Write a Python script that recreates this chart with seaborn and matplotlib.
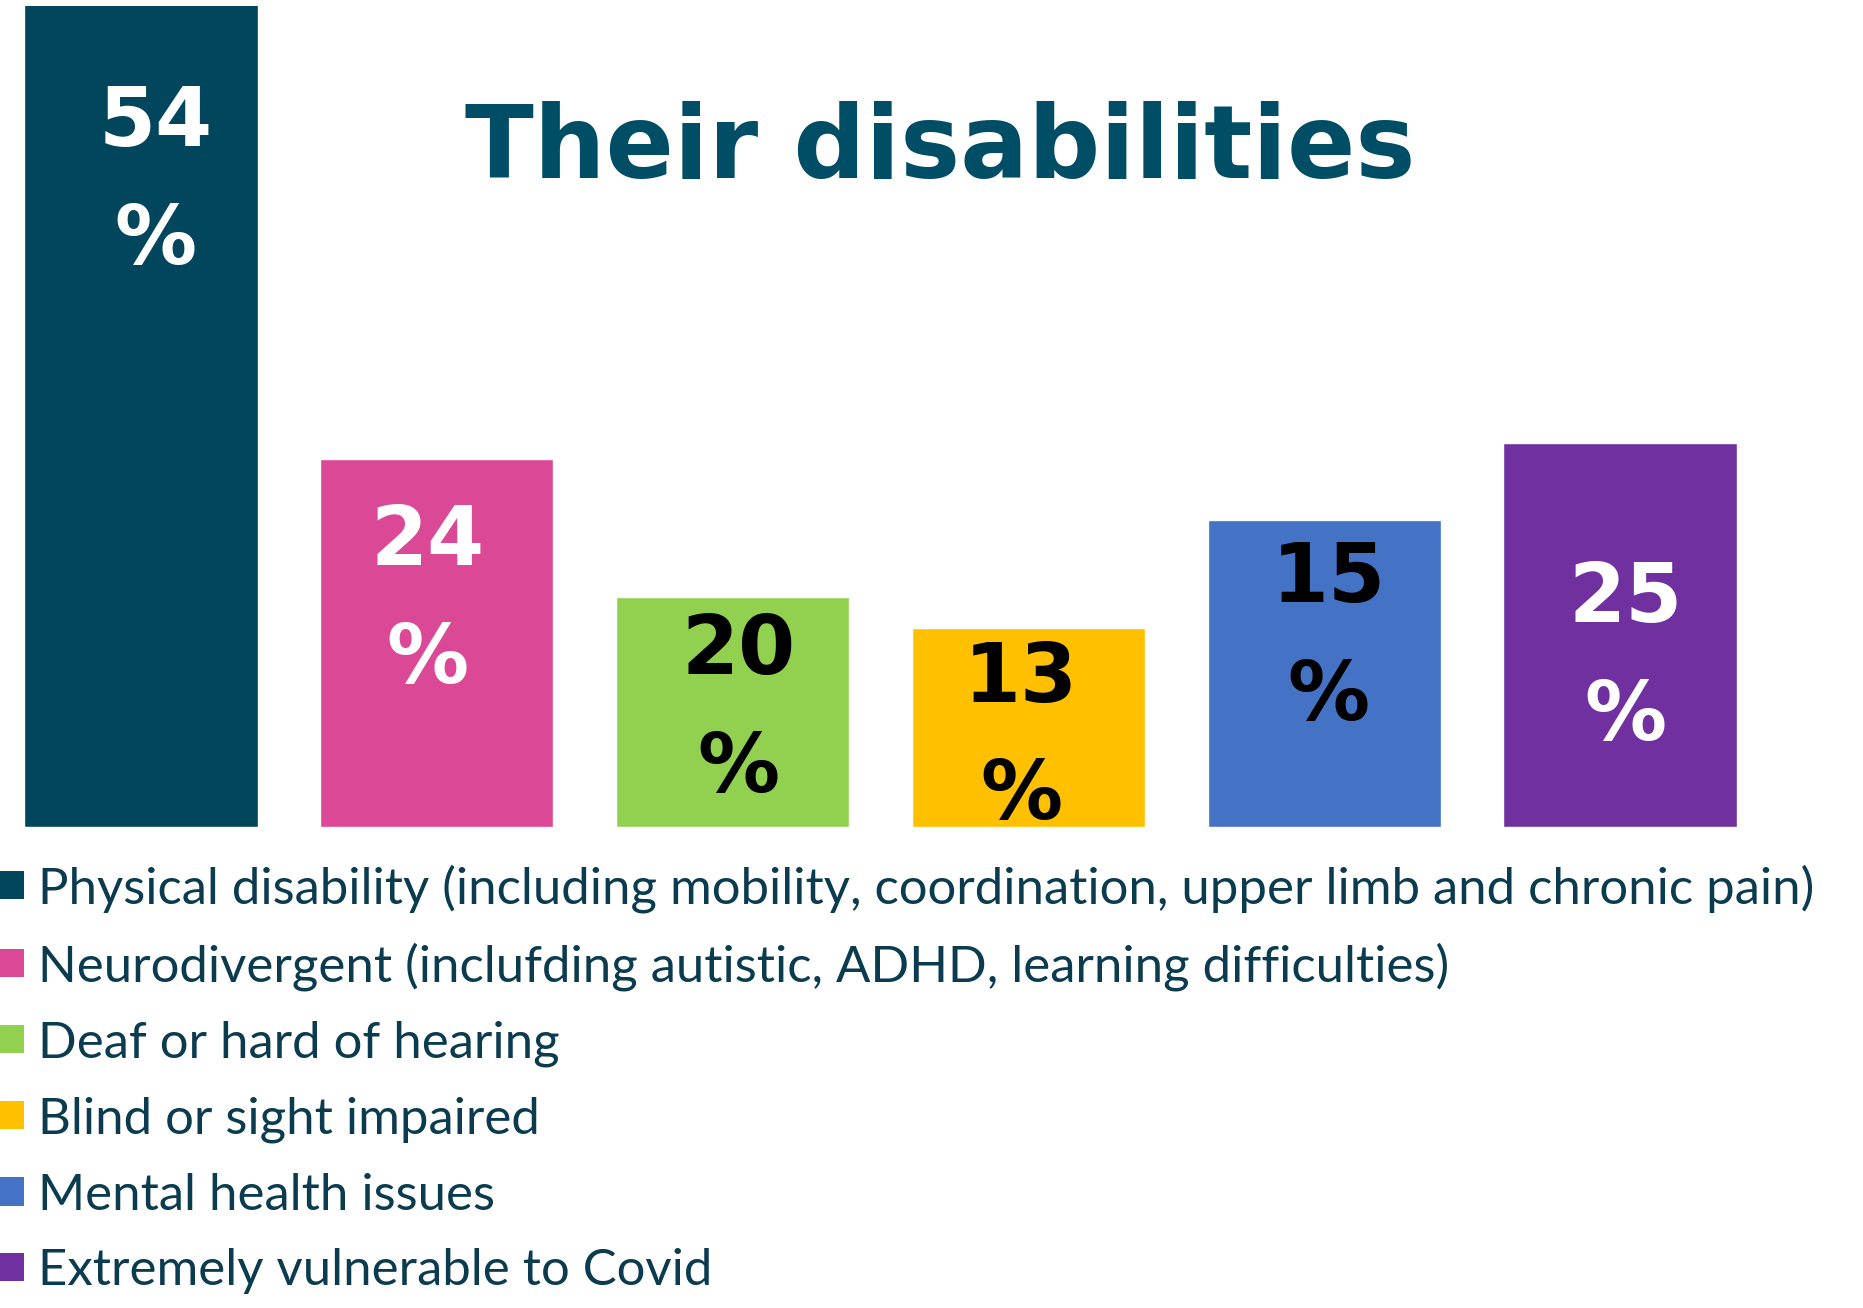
import matplotlib
matplotlib.use("Agg")
import matplotlib.pyplot as plt
import seaborn as sns
import pandas as pd
from matplotlib import font_manager as fm
from matplotlib.patches import Patch

# veriler
categories = [
    "Physical disability (including mobility, coordination, upper limb and chronic pain)",
    "Neurodivergent (inclufding autistic, ADHD, learning difficulties)",
    "Deaf or hard of hearing",
    "Blind or sight impaired",
    "Mental health issues",
    "Extremely vulnerable to Covid",
]
bar_heights = [54, 24, 15, 13, 20, 25]
bar_labels = ["54\n%", "24\n%", "20\n%", "13\n%", "15\n%", "25\n%"]
colors = ["#01465C", "#DB4896", "#92D050", "#FFC000", "#4472C4", "#7030A0"]
label_colors = ["white", "white", "black", "black", "black", "white"]
# etiketlerin yeri (veri biriminde): dikey konum ve bar ortasindan kayma
label_y = [42.0, 14.7, 7.6, 5.8, 12.3, 11.0]
label_dx = [0.05, -0.03, 0.02, -0.025, 0.015, 0.02]

sns.set_theme(style="white")

fp_bold = fm.FontProperties(family="DejaVu Sans", weight="bold")
fp_leg = fm.FontProperties(family="Lato")

W, H = 1863, 1308
fig = plt.figure(figsize=(W / 100, H / 100), dpi=100)
base = 827.3
top = 5.7
ax = fig.add_axes([0, 1 - base / H, 1, (base - top) / H])

df = pd.DataFrame({"cat": categories, "val": bar_heights})
sns.barplot(data=df, x="cat", y="val", hue="cat", palette=colors, saturation=1,
            width=0.788, legend=False, ax=ax)

pitch = 295.8
c0 = 141
ax.set_xlim(-c0 / pitch, (W - c0) / pitch)
ax.set_ylim(0, 53.5)  # ilk bar tepeden kesik
ax.set_axis_off()

for i, (lab, yy) in enumerate(zip(bar_labels, label_y)):
    ax.text(i + label_dx[i], yy, lab, ha="center", va="center", color=label_colors[i],
            fontproperties=fp_bold, fontsize=59, linespacing=1.62)

# baslik
title = fig.text(940 / W, 1 - 178 / H, "Their disabilities", ha="center", va="baseline",
                 color="#004D66", fontproperties=fp_bold, fontsize=80)
fig.canvas.draw()
w = title.get_window_extent().width
title.set_fontsize(80 * 950 / w)

# legend yazi boyutu: ilk satir 38..1814 px
tmp = fig.text(0, 0, categories[0], fontproperties=fp_leg, fontsize=30)
fig.canvas.draw()
fs = 30 * 1776 / tmp.get_window_extent().width
tmp.remove()
fs_px = fs * 100 / 72

prop = fp_leg.copy()
prop.set_size(fs)
handles = [Patch(facecolor=c, edgecolor="none") for c in colors]
row_h = 76.2
txt_h = 1.2 * fs_px
leg = fig.legend(handles, categories, loc="upper left",
                 bbox_to_anchor=(0, 1 - (887 + 7.5 - txt_h / 2) / H),
                 frameon=False, borderpad=0, borderaxespad=0,
                 handlelength=24 / fs_px, handleheight=24 / fs_px,
                 handletextpad=14 / fs_px, labelspacing=(row_h - txt_h + 14.5) / fs_px,
                 prop=prop)
for t in leg.get_texts():
    t.set_color("#0B3B4F")

fig.savefig("out.png", dpi=100)
